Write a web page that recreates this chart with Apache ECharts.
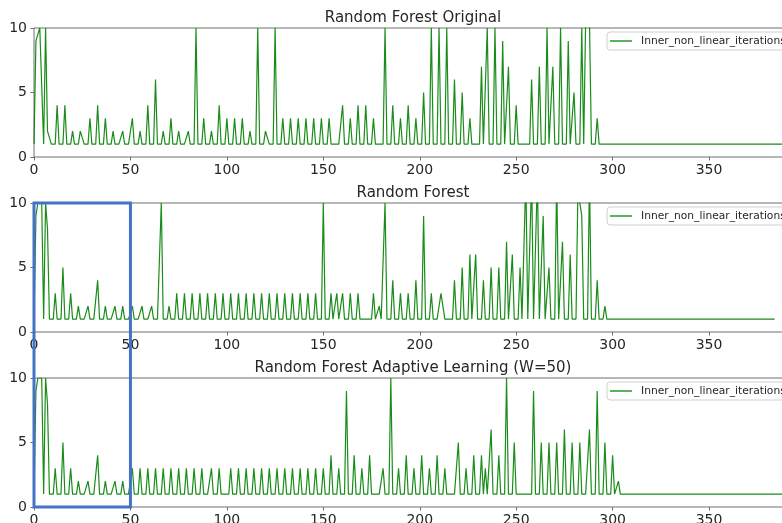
<!DOCTYPE html>
<html>
<head>
<meta charset="utf-8">
<script src="https://cdn.jsdelivr.net/npm/echarts@6/dist/echarts.min.js"></script>
<style>
html,body{margin:0;padding:0;background:#ffffff;}
#chart{width:782px;height:523px;}
</style>
</head>
<body>
<div id="chart"></div>
<script>
// ---------- data ----------
const panelTitles = ['Random Forest Original', 'Random Forest', 'Random Forest Adaptive Learning (W=50)'];
const seriesName = 'Inner_non_linear_iterations';
const xTickStep = 50;
const yTicks = [0, 5, 10];
const highlightXRange = [0, 50];

const rfOriginal = [
  1,9,9,10,10,1,10,2,2,1,
  1,1,4,1,1,1,4,1,1,1,
  2,1,1,1,2,2,1,1,1,3,
  1,1,1,4,1,1,1,3,1,1,
  1,2,1,1,1,1,2,1,1,1,
  1,3,1,1,1,2,1,1,1,4,
  1,1,1,6,1,1,1,2,1,1,
  1,3,1,1,1,2,1,1,1,1,
  2,1,1,1,10,1,1,1,3,1,
  1,1,2,1,1,1,4,1,1,1,
  3,1,1,1,3,1,1,1,3,1,
  1,1,2,1,1,1,10,1,1,1,
  2,2,1,1,1,10,1,1,1,3,
  1,1,1,3,1,1,1,3,1,1,
  1,3,1,1,1,3,1,1,1,3,
  1,1,1,3,1,1,1,1,1,1,
  4,1,1,1,3,1,1,1,4,1,
  1,1,4,1,1,1,3,1,1,1,
  1,1,10,1,1,1,4,1,1,1,
  3,1,1,1,4,1,1,1,3,1,
  1,1,5,1,1,1,10,1,1,1,
  10,1,1,1,10,1,1,1,6,1,
  1,1,5,1,1,1,3,1,1,1,
  1,1,7,1,1,10,1,1,1,10,
  1,1,1,9,1,1,7,1,1,1,
  4,1,1,1,1,1,1,1,6,1,
  1,1,7,1,1,1,10,1,1,7,
  1,1,1,10,1,1,1,9,1,1,
  5,1,1,1,10,1,1,20,20,1,
  1,1,3,1,1,1,1,1,1,1,
  1,1,1,1,1,1,1,1,1,1,
  1,1,1,1,1,1,1,1,1,1,
  1,1,1,1,1,1,1,1,1,1,
  1,1,1,1,1,1,1,1,1,1,
  1,1,1,1,1,1,1,1,1,1,
  1,1,1,1,1,1,1,1,1,1,
  1,1,1,1,1,1,1,1,1,1,
  1,1,1,1,1,1,1,1,1,1,
  1,1,1,1,1,1,1,1,1,1,
  1,1,1
];

const rfPlain = [
  1,9,10,10,10,1,10,8,1,1,
  1,3,1,1,1,5,1,1,1,3,
  1,1,1,2,1,1,1,1,2,1,
  1,1,1,4,1,1,1,2,1,1,
  1,1,2,1,1,1,2,1,1,1,
  1,2,1,1,1,1,2,1,1,1,
  1,2,1,1,1,1,10,1,1,1,
  2,1,1,1,3,1,1,1,3,1,
  1,1,3,1,1,1,3,1,1,1,
  3,1,1,1,3,1,1,1,3,1,
  1,1,3,1,1,1,3,1,1,1,
  3,1,1,1,3,1,1,1,3,1,
  1,1,3,1,1,1,3,1,1,1,
  3,1,1,1,3,1,1,1,3,1,
  1,1,3,1,1,1,3,1,1,1,
  10,1,1,1,3,1,1,3,1,1,
  3,1,1,1,3,1,1,1,3,1,
  1,1,1,1,1,1,3,1,1,2,
  1,1,10,1,1,1,4,1,1,1,
  3,1,1,1,3,1,1,1,4,1,
  1,1,9,1,1,1,3,1,1,1,
  1,3,2,1,1,1,1,1,4,1,
  1,1,5,1,1,1,6,1,1,6,
  1,1,1,4,1,1,1,5,1,1,
  1,5,1,1,1,7,1,1,6,1,
  1,1,5,1,1,12,1,1,12,1,
  1,12,1,1,9,1,1,5,1,1,
  1,12,1,1,7,1,1,1,6,1,
  1,1,11,11,9,1,1,1,12,1,
  1,1,4,1,1,1,2,1,1,1,
  1,1,1,1,1,1,1,1,1,1,
  1,1,1,1,1,1,1,1,1,1,
  1,1,1,1,1,1,1,1,1,1,
  1,1,1,1,1,1,1,1,1,1,
  1,1,1,1,1,1,1,1,1,1,
  1,1,1,1,1,1,1,1,1,1,
  1,1,1,1,1,1,1,1,1,1,
  1,1,1,1,1,1,1,1,1,1,
  1,1,1,1,1
];

const rfAdaptive = [
  1,9,10,10,10,1,10,8,1,1,
  1,3,1,1,1,5,1,1,1,3,
  1,1,1,2,1,1,1,1,2,1,
  1,1,1,4,1,1,1,2,1,1,
  1,1,2,1,1,1,2,1,1,1,
  1,3,1,1,1,3,1,1,1,3,
  1,1,1,3,1,1,1,3,1,1,
  1,3,1,1,1,3,1,1,1,3,
  1,1,1,3,1,1,1,3,1,1,
  1,1,3,1,1,1,3,1,1,1,
  1,1,3,1,1,1,3,1,1,1,
  3,1,1,1,3,1,1,1,3,1,
  1,1,3,1,1,1,3,1,1,1,
  3,1,1,1,3,1,1,1,3,1,
  1,1,3,1,1,1,3,1,1,1,
  3,1,1,1,4,1,1,1,3,1,
  1,1,9,1,1,1,4,1,1,1,
  3,1,1,1,4,1,1,1,1,1,
  1,3,1,1,1,10,1,1,1,3,
  1,1,1,4,1,1,1,3,1,1,
  1,4,1,1,1,3,1,1,1,4,
  1,1,1,3,1,1,1,1,1,1,
  5,1,1,1,3,1,1,1,4,1,
  1,1,4,1,3,1,1,6,1,1,
  1,4,1,1,1,10,1,1,1,5,
  1,1,1,1,1,1,1,1,1,9,
  1,1,1,5,1,1,1,5,1,1,
  1,5,1,1,1,6,1,1,1,5,
  1,1,1,5,1,1,1,1,6,1,
  1,1,9,1,1,1,5,1,1,1,
  4,1,1,2,1,1,1,1,1,1,
  1,1,1,1,1,1,1,1,1,1,
  1,1,1,1,1,1,1,1,1,1,
  1,1,1,1,1,1,1,1,1,1,
  1,1,1,1,1,1,1,1,1,1,
  1,1,1,1,1,1,1,1,1,1,
  1,1,1,1,1,1,1,1,1,1,
  1,1,1,1,1,1,1,1,1,1,
  1,1,1,1,1,1,1,1,1,1,
  1,1,1
];

// ---------- layout / style ----------
const panels = [rfOriginal, rfPlain, rfAdaptive];
const gridLeft = 34;
const gridWidth = 758;
const gridHeight = 129;
const gridTops = [28, 203, 378];
const xMax = 393;
const fontFamily = '"DejaVu Sans", "Liberation Sans", sans-serif';
const spineColor = '#6e6e6e';
const textColor = '#262626';
const lineColor = '#008000';

const chart = echarts.init(document.getElementById('chart'), null, {renderer: 'canvas'});

const option = {
  animation: false,
  backgroundColor: '#ffffff',
  grid: gridTops.map(t => ({
    left: gridLeft, top: t, width: gridWidth, height: gridHeight,
    show: true, borderColor: spineColor, borderWidth: 1,
    backgroundColor: 'transparent', containLabel: false, outerBoundsMode: 'none'
  })),
  xAxis: gridTops.map((t, i) => ({
    type: 'value', gridIndex: i, min: 0, max: xMax, interval: xTickStep,
    axisLine: {show: false},
    axisTick: {show: true, length: 3.5, lineStyle: {color: spineColor, width: 1}},
    axisLabel: {show: true, showMaxLabel: false, margin: 6, color: textColor, fontSize: 14, fontFamily: fontFamily},
    splitLine: {show: false}
  })),
  yAxis: gridTops.map((t, i) => ({
    type: 'value', gridIndex: i, min: yTicks[0], max: yTicks[yTicks.length - 1], interval: yTicks[1] - yTicks[0],
    axisLine: {show: false},
    axisTick: {show: true, length: 3.5, lineStyle: {color: spineColor, width: 1}},
    axisLabel: {show: true, margin: 7, color: textColor, fontSize: 14, fontFamily: fontFamily},
    splitLine: {show: false}
  })),
  legend: gridTops.map((t, i) => ({
    data: [seriesName],
    left: 607, top: t + 4,
    orient: 'vertical',
    icon: 'rect', itemWidth: 22, itemHeight: 2,
    padding: [3.5, 6, 3.5, 3],
    backgroundColor: 'rgba(255,255,255,0.85)',
    borderColor: '#cfcfcf', borderWidth: 1, borderRadius: 3,
    selectedMode: false,
    itemStyle: {color: '#5cb35c'},
    textStyle: {fontSize: 10.7, fontFamily: fontFamily, color: textColor, padding: [0, 0, 0, 4]}
  })),
  series: panels.map((arr, i) => ({
    name: seriesName,
    type: 'line',
    xAxisIndex: i, yAxisIndex: i,
    data: arr.map((v, k) => [k, v]),
    showSymbol: false, symbol: 'none',
    clip: true,
    lineStyle: {color: lineColor, width: 1.2, opacity: 0.9},
    itemStyle: {color: lineColor},
    emphasis: {disabled: true}
  }))
};
chart.setOption(option);

// titles and the highlight box placed through the axes' own scales
const graphics = [];
panelTitles.forEach((title, i) => {
  const pL = chart.convertToPixel({xAxisIndex: i, yAxisIndex: i}, [0, 10]);
  const pR = chart.convertToPixel({xAxisIndex: i, yAxisIndex: i}, [xMax, 10]);
  graphics.push({
    type: 'text',
    x: (pL[0] + pR[0]) / 2, y: pL[1] - 10,
    style: {text: title, fill: textColor, fontSize: 15, fontFamily: fontFamily, align: 'center', verticalAlign: 'middle'},
    z: 10
  });
});
const tl = chart.convertToPixel({xAxisIndex: 1, yAxisIndex: 1}, [highlightXRange[0], 10]);
const br = chart.convertToPixel({xAxisIndex: 2, yAxisIndex: 2}, [highlightXRange[1], 0]);
graphics.push({
  type: 'rect',
  shape: {x: tl[0], y: tl[1], width: br[0] - tl[0], height: br[1] - tl[1]},
  style: {fill: 'none', stroke: '#4472c4', lineWidth: 3},
  z: 20
});
chart.setOption({graphic: graphics});
</script>
</body>
</html>
